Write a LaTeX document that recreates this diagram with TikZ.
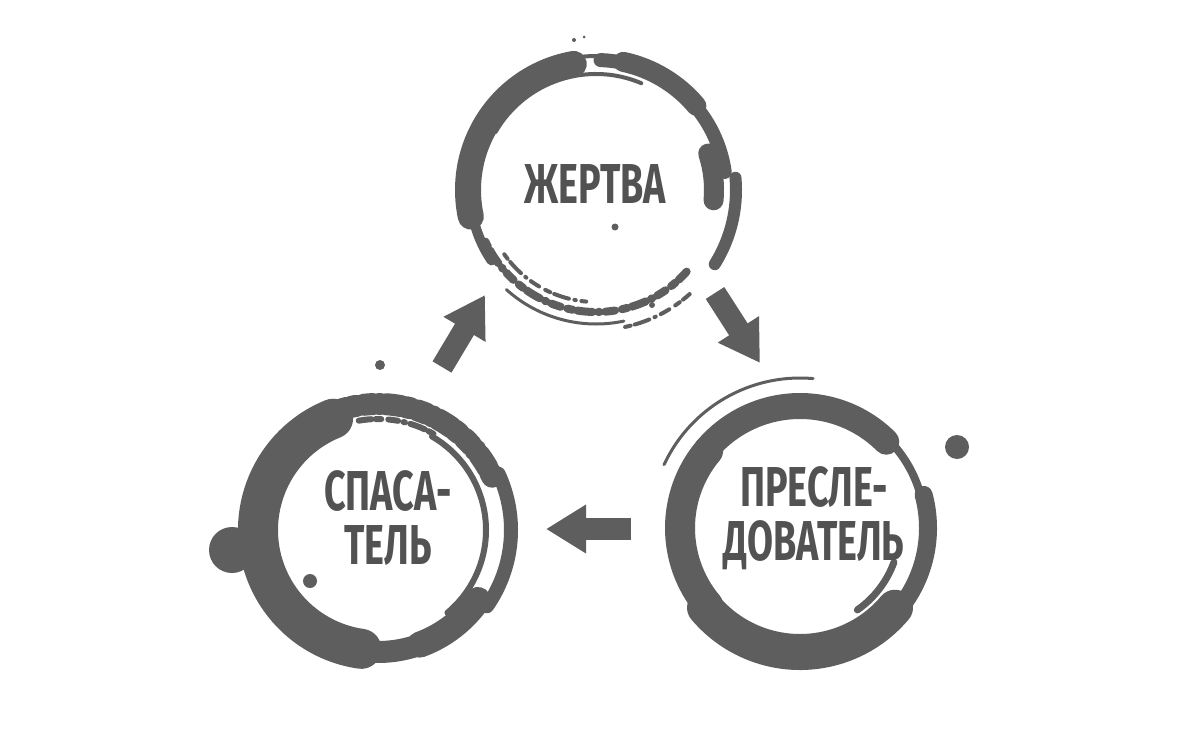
\documentclass[tikz,border=0pt]{standalone}
\usepackage{fontspec}
\newfontfamily\hand[FakeStretch=0.67]{Fira Sans}
\usetikzlibrary{arrows.meta}
\definecolor{inkc}{HTML}{5E5E5E}
\definecolor{txtc}{HTML}{525252}
\begin{document}
\begin{tikzpicture}[x=0.025cm,y=0.025cm,
  ink/.style={draw=inkc,line cap=round},
  speck/.style={draw=inkc,line cap=round,dash pattern=on 4pt off 3pt on 11pt off 4pt on 1pt off 4pt on 7pt off 5pt},
  lbl/.style={text=txtc,font=\hand\bfseries\fontsize{40}{38}\selectfont,align=center,inner sep=0pt},
  blockarrow/.style={draw=inkc,line width=0.55cm,-{Triangle[length=1cm,width=1.15cm]}},
  dot/.style={fill=inkc}]
\fill[white] (0,0) rectangle (1200,746);
\useasboundingbox (0,0) rectangle (1200,746);

% ---------- top ring: Жертва
\coordinate (zc) at (596,556);
\draw[ink,line width=0.65cm] (zc) ++(100:128) arc[start angle=100,end angle=192,radius=128];
\draw[ink,line width=0.25cm] (zc) ++(192:126) arc[start angle=192,end angle=214,radius=126];
\draw[ink,line width=0.35cm] (zc) ++(8:130) arc[start angle=8,end angle=88,radius=130];
\draw[ink,line width=0.5cm] (zc) ++(40:131) arc[start angle=40,end angle=78,radius=131];
\draw[ink,line width=0.5cm] (zc) ++(-5:118) arc[start angle=-5,end angle=18,radius=118];
\draw[ink,line width=0.3cm] (zc) ++(5:140) arc[start angle=5,end angle=-32,radius=140];
\draw[ink,line width=0.1cm] (zc) ++(67:116) arc[start angle=67,end angle=150,radius=116];
\draw[ink,line width=0.1cm] (zc) ++(86:134) arc[start angle=86,end angle=104,radius=134];
\draw[speck,line width=0.2cm] (zc) ++(205:122) arc[start angle=205,end angle=318,radius=122];
\draw[speck,line width=0.1cm] (zc) ++(215:112) arc[start angle=215,end angle=265,radius=112];
\draw[ink,line width=0.075cm] (zc) ++(228:134) arc[start angle=228,end angle=282,radius=134];
\draw[speck,line width=0.1cm] (zc) ++(282:140) arc[start angle=282,end angle=312,radius=140];
\fill[dot] (615,519) circle[radius=3.5];
\fill[dot] (652,441) circle[radius=3];
\fill[dot] (574,706) circle[radius=2];
\fill[dot] (584,709) circle[radius=1.5];
\node[lbl] (zh) at (595,562) {ЖЕРТВА};

% ---------- left ring: Спасатель
\coordinate (sc) at (378,216);
\draw[ink,line width=1.0cm] (sc) ++(112:120) arc[start angle=112,end angle=262,radius=120];
\draw[ink,line width=0.55cm] (sc) ++(262:122) arc[start angle=262,end angle=290,radius=122];
\draw[ink,line width=0.65cm] (sc) ++(290:122) arc[start angle=290,end angle=325,radius=122];
\draw[ink,line width=0.35cm] (sc) ++(-35:133) arc[start angle=-35,end angle=25,radius=133];
\draw[ink,line width=0.15cm] (sc) ++(-50:108) arc[start angle=-50,end angle=60,radius=108];
\draw[speck,line width=0.55cm] (sc) ++(25:126) arc[start angle=25,end angle=114,radius=126];
\draw[speck,line width=0.15cm] (sc) ++(60:111) arc[start angle=60,end angle=100,radius=111];
\fill[dot] (232,196) circle[radius=23];
\fill[dot] (310,165) circle[radius=7];
\fill[dot] (380,381) circle[radius=5];
\node[lbl] (sp) at (388,228) {СПАСА-\\ТЕЛЬ};

% ---------- right ring: Преследователь
\coordinate (pc) at (800,218);
\draw[ink,line width=0.65cm] (pc) ++(45:122) arc[start angle=45,end angle=140,radius=122];
\draw[ink,line width=0.75cm] (pc) ++(140:120) arc[start angle=140,end angle=220,radius=120];
\draw[ink,line width=0.9cm] (pc) ++(220:124) arc[start angle=220,end angle=320,radius=124];
\draw[ink,line width=0.45cm] (pc) ++(320:128) arc[start angle=320,end angle=375,radius=128];
\draw[ink,line width=0.2cm] (pc) ++(15:125) arc[start angle=15,end angle=45,radius=125];
\draw[ink,line width=0.075cm] (pc) ++(85:150) arc[start angle=85,end angle=155,radius=150];
\draw[ink,line width=0.175cm] (pc) ++(-55:100) arc[start angle=-55,end angle=-20,radius=100];
\fill[dot] (957,299) circle[radius=12];
\node[lbl] (pr) at (814,228) {ПРЕСЛЕ-\\ДОВАТЕЛЬ};

% ---------- arrows
\coordinate (a1s) at (442,379);
\coordinate (a1e) at (485,451);
\coordinate (a2s) at (715,453);
\coordinate (a2e) at (760,383);
\coordinate (a3s) at (631,217);
\coordinate (a3e) at (546,217);
\draw[blockarrow] (a1s) -- (a1e);
\draw[blockarrow] (a2s) -- (a2e);
\draw[blockarrow] (a3s) -- (a3e);
\end{tikzpicture}
\end{document}
